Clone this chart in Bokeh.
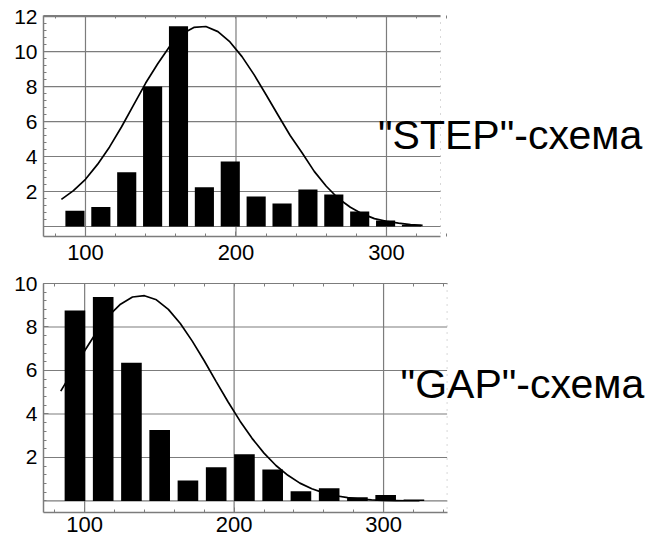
from bokeh.plotting import figure
from bokeh.models import FixedTicker, Range1d, Label, LinearAxis, Span
from bokeh.layouts import column
from bokeh.embed import file_html
from bokeh.resources import INLINE

# ---------------- data ----------------
step_bin_centers = [93.0, 110.2, 127.4, 144.6, 161.8, 179.0, 196.2, 213.4,
                    230.6, 247.8, 265.0, 282.2, 299.4, 316.6]
step_counts = [0.9, 1.12, 3.1, 8.0, 11.45, 2.25, 3.72, 1.72,
               1.32, 2.12, 1.83, 0.86, 0.34, 0.1]
step_fit_x = [84, 92, 100, 108, 116, 124, 132, 140, 148, 156, 164, 172, 180, 188,
              196, 204, 212, 220, 228, 236, 244, 252, 260, 268, 276, 284, 292, 300,
              308, 316, 324]
step_fit_y = [1.55, 2.05, 2.7, 3.55, 4.55, 5.7, 6.95, 8.2, 9.3, 10.3, 11.0, 11.38,
              11.43, 11.14, 10.55, 9.71, 8.68, 7.53, 6.36, 5.2, 4.2, 3.15, 2.3, 1.6,
              1.1, 0.72, 0.45, 0.3, 0.19, 0.11, 0.06]

gap_bin_centers = [93.5, 112.4, 131.3, 150.2, 169.1, 188.0, 206.9, 225.8,
                   244.7, 263.6, 282.5, 301.4, 320.3]
gap_counts = [8.76, 9.38, 6.36, 3.26, 0.94, 1.55, 2.15, 1.45,
              0.45, 0.58, 0.17, 0.28, 0.07]
gap_fit_x = [84, 92, 100, 108, 116, 124, 132, 140, 148, 156, 164, 172, 180, 188,
             196, 204, 212, 220, 228, 236, 244, 252, 260, 268, 276, 284, 292, 300,
             308, 316, 324]
gap_fit_y = [5.05, 5.97, 6.91, 7.77, 8.51, 9.05, 9.38, 9.44, 9.25, 8.81, 8.16, 7.35,
             6.45, 5.49, 4.55, 3.67, 2.88, 2.2, 1.63, 1.18, 0.82, 0.56, 0.37, 0.24,
             0.15, 0.09, 0.055, 0.03, 0.02, 0.01, 0.01]

x_major_ticks = [100, 200, 300]
x_minor_ticks = [80, 120, 140, 160, 180, 220, 240, 260, 280, 320, 340]
step_y_ticks = [2, 4, 6, 8, 10, 12]
gap_y_ticks = [2, 4, 6, 8, 10]
step_label = '"STEP"-схема'
gap_label = '"GAP"-схема'

GRAY = "#7c7c7c"
FONT = "Liberation Sans"
W = 648


def make_panel(centers, counts, fit_x, fit_y, bar_w, box_x, px_per_unit, yr, yticks, ymax,
               label, lx, ly, height, b_top, b_bottom, b_left, x_standoff):
    x0, x1 = box_x
    y0, y1 = yr
    x_end = x0 + (W - b_left) / px_per_unit
    p = figure(width=W, height=height, output_backend="svg",
               toolbar_location=None, x_range=Range1d(x0, x_end), y_range=Range1d(y0, y1),
               min_border_top=b_top, min_border_bottom=b_bottom,
               min_border_left=b_left, min_border_right=0)
    p.background_fill_color = "white"
    p.border_fill_color = "white"
    p.outline_line_color = None
    p.grid.visible = False

    yminor = [round(0.4 * i, 2) for i in range(0, int(ymax / 0.4) + 1)]

    # grid lines limited to the plotting box
    hy = [0] + yticks
    p.segment(x0=[x0] * len(hy), x1=[x1] * len(hy), y0=hy, y1=hy,
              line_color=GRAY, line_width=1.2, level="underlay")
    p.segment(x0=x_major_ticks, x1=x_major_ticks, y0=[y0] * 3, y1=[y1] * 3,
              line_color=GRAY, line_width=1.2, level="underlay")
    # faint dotted right edge of the box
    p.add_layout(Span(location=x1, dimension="height", line_color="#b0b0b0",
                      line_width=1, line_dash="1 6"))

    # main axes
    for ax in p.xaxis:
        ax.ticker = FixedTicker(ticks=x_major_ticks, minor_ticks=x_minor_ticks)
        ax.bounds = (x0, x1)
        ax.major_label_standoff = x_standoff
    for ax in p.yaxis:
        ax.ticker = FixedTicker(ticks=yticks, minor_ticks=yminor)
        ax.major_label_standoff = 6
    for ax in list(p.xaxis) + list(p.yaxis):
        ax.axis_line_color = GRAY
        ax.axis_line_width = 1.5
        ax.major_tick_line_color = GRAY
        ax.minor_tick_line_color = GRAY
        ax.major_tick_in = 5
        ax.major_tick_out = 0
        ax.minor_tick_in = 3
        ax.minor_tick_out = 0
        ax.major_label_text_font = FONT
        ax.major_label_text_color = "black"
    for ax in p.xaxis:
        ax.major_label_text_font_size = "22px"
    for ax in p.yaxis:
        ax.major_label_text_font_size = "21px"

    # top edge with small ticks only (no labels)
    top = LinearAxis(ticker=FixedTicker(ticks=[], minor_ticks=sorted(x_minor_ticks + x_major_ticks)))
    top.bounds = (x0, x1)
    top.axis_line_color = GRAY
    top.axis_line_width = 1.2
    top.minor_tick_line_color = GRAY
    top.minor_tick_in = 3
    top.minor_tick_out = 0
    top.major_tick_in = 0
    top.major_tick_out = 0
    top.major_label_standoff = 0
    p.add_layout(top, "above")

    # fitted curve, then bars
    p.line(fit_x, fit_y, line_color="black", line_width=1.7)
    p.vbar(x=centers, top=counts, bottom=0, width=bar_w,
           fill_color="black", line_color=None)

    p.add_layout(Label(x=lx, y=ly, text=label, text_font=FONT,
                       text_font_size="41px", text_color="black",
                       text_baseline="alphabetic", text_align="left"))
    return p


# top panel: box x 43..440 px, frame y 15..236 px
p1 = make_panel(step_bin_centers, step_counts, step_fit_x, step_fit_y, 12.7,
                (72.1, 335.9), 1.505, (-0.571, 12.06), step_y_ticks, 12,
                step_label, 294.4, 5.24,
                height=270, b_top=15, b_bottom=34, b_left=43, x_standoff=8)
# bottom panel: box x 41..446 px, frame y 283..512 px
p2 = make_panel(gap_bin_centers, gap_counts, gap_fit_x, gap_fit_y, 13.8,
                (72.46, 342.5), 1.4995, (-0.53, 10.0), gap_y_ticks, 10,
                gap_label, 311.4, 5.36,
                height=271, b_top=13, b_bottom=29, b_left=41, x_standoff=4)

layout = column(p1, p2)
open("out.html", "w").write(file_html(layout, INLINE))
